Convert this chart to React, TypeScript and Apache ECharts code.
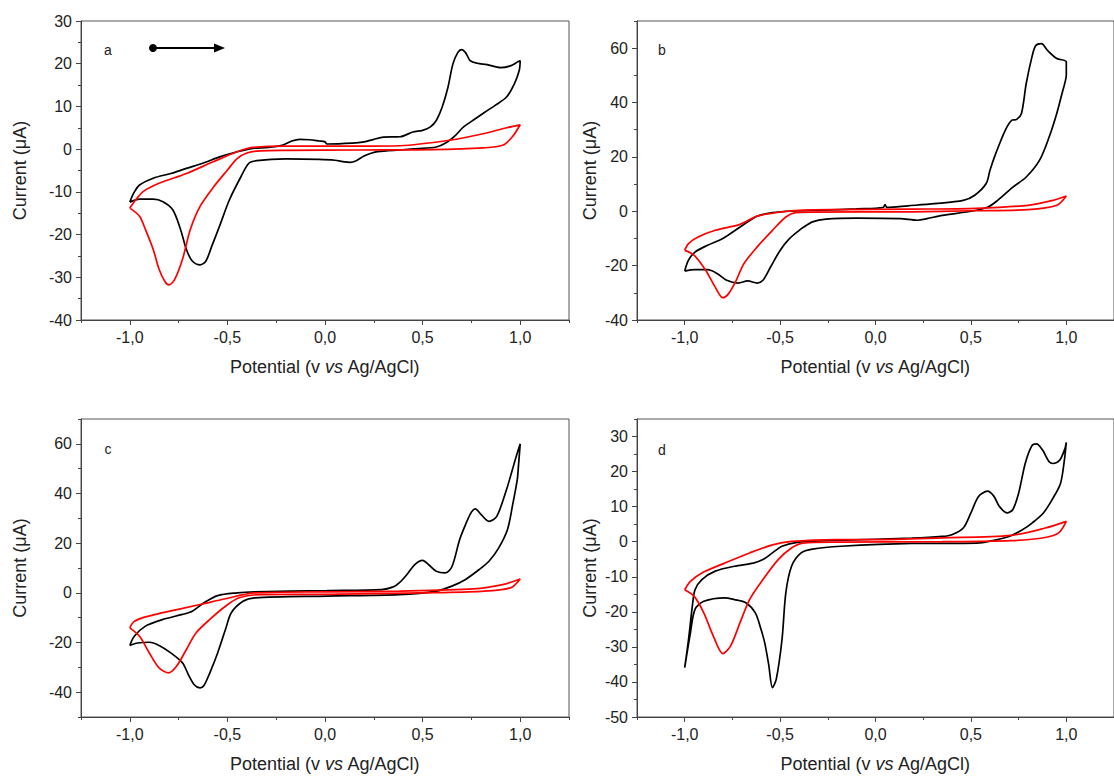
import React, { useEffect, useRef } from "react";
import * as echarts from "echarts";

const xMajor = [-1.0, -0.5, 0.0, 0.5, 1.0];
const xMinor = [-1.25, -0.75, -0.25, 0.25, 0.75, 1.25];
const xTitle = "Potential (v {i|vs} Ag/AgCl)";
const yTitle = "Current (\u03bcA)";
const panelLetters = ["a", "b", "c", "d"];

const yMajorA = [-40, -30, -20, -10, 0, 10, 20, 30];
const yMinorA = [-35, -25, -15, -5, 5, 15, 25];
const yMajorB = [-40, -20, 0, 20, 40, 60];
const yMinorB = [-30, -10, 10, 30, 50, 70];
const yMajorC = [-40, -20, 0, 20, 40, 60];
const yMinorC = [-50, -30, -10, 10, 30, 50, 70];
const yMajorD = [-50, -40, -30, -20, -10, 0, 10, 20, 30];
const yMinorD = [-45, -35, -25, -15, -5, 5, 15, 25, 35];

const aBlack = [
  [-1.0, -12.4], [-0.98, -10.3], [-0.95, -8.4], [-0.88, -6.8], [-0.79, -5.7], [-0.71, -4.5], [-0.62, -3.2],
  [-0.54, -1.8], [-0.45, -0.6], [-0.37, 0.2], [-0.29, 0.4], [-0.22, 0.9], [-0.17, 1.9], [-0.13, 2.3],
  [-0.08, 2.2], [-0.03, 1.9], [0.0, 1.7], [0.01, 1.2], [0.14, 1.4], [0.2, 1.7], [0.25, 2.3], [0.3, 2.8],
  [0.385, 2.9], [0.45, 4.0], [0.5, 4.4], [0.54, 5.2], [0.57, 6.7], [0.6, 9.8], [0.63, 14.5], [0.655, 19.9],
  [0.68, 22.6], [0.7, 23.3], [0.72, 22.6], [0.744, 20.7], [0.78, 20.1], [0.83, 19.8], [0.9, 19.1],
  [0.95, 19.5], [0.99, 20.5], [1.0, 20.7],
  [0.995, 18.4], [0.97, 15.3], [0.93, 12.2], [0.87, 10.2], [0.82, 8.7], [0.77, 7.1], [0.71, 5.2],
  [0.67, 3.3], [0.62, 1.5], [0.57, 0.5], [0.47, 0.1], [0.38, -0.2], [0.27, -0.6], [0.24, -0.9],
  [0.2, -1.6], [0.16, -2.7], [0.13, -3.1], [0.1, -3.0], [0.05, -2.6], [-0.03, -2.4], [-0.2, -2.3],
  [-0.35, -2.7], [-0.39, -3.3], [-0.43, -6.4], [-0.49, -11.9], [-0.54, -18], [-0.58, -22.7], [-0.61, -26.2],
  [-0.64, -27.1], [-0.68, -26.2], [-0.71, -23.5], [-0.74, -18.8], [-0.78, -14.2], [-0.83, -12.3],
  [-0.88, -11.7], [-0.95, -11.7], [-1.0, -12.4],
];
const aRed = [
  [-1.0, -13.8], [-0.95, -15.7], [-0.92, -18.8], [-0.88, -23.5], [-0.85, -28.1], [-0.82, -31], [-0.8, -31.8],
  [-0.77, -30.5], [-0.73, -25.8], [-0.69, -18.8], [-0.64, -13.4], [-0.57, -8.8], [-0.5, -4.9], [-0.45, -2.2],
  [-0.4, -0.9], [-0.33, -0.4], [-0.2, -0.3], [0.17, -0.2], [0.55, -0.1], [0.81, 0.3], [0.91, 0.9],
  [0.96, 2.9], [1.0, 5.7], [0.93, 5.0], [0.81, 3.6], [0.64, 2.1], [0.385, 0.8], [0.17, 0.7], [-0.2, 0.7],
  [-0.37, 0.4], [-0.45, -0.6], [-0.57, -2.9], [-0.71, -5.7], [-0.85, -8], [-0.93, -9.9], [-0.97, -11.9],
  [-1.0, -13.8],
];
const bBlack = [
  [-1.0, -22], [-0.98, -18], [-0.946, -15], [-0.88, -12.5], [-0.8, -10], [-0.71, -5.8], [-0.62, -1.8],
  [-0.54, -0.5], [-0.43, 0.1], [-0.28, 0.4], [-0.1, 0.9], [0.04, 1.4], [0.05, 2.5], [0.06, 1.4], [0.17, 2.0],
  [0.31, 2.8], [0.46, 4.0], [0.52, 5.9], [0.58, 10.2], [0.6, 15.1], [0.63, 21.2], [0.68, 29.8], [0.715, 33.5],
  [0.74, 33.8], [0.765, 36], [0.79, 47], [0.82, 56.8], [0.84, 61], [0.87, 61.7], [0.9, 59.3],
  [0.95, 56.2], [1.0, 55],
  [1.0, 50], [0.99, 46.5], [0.98, 44], [0.95, 36], [0.91, 27.3], [0.86, 18.8], [0.79, 12.6], [0.72, 8.9],
  [0.64, 4], [0.59, 1.6], [0.5, 0], [0.35, -1.5], [0.27, -2.7], [0.22, -3.3], [0.13, -2.7], [-0.1, -2.5],
  [-0.26, -2.9], [-0.33, -3.9], [-0.38, -6], [-0.4, -7], [-0.45, -10], [-0.5, -14.4], [-0.55, -20.5],
  [-0.59, -25.4], [-0.62, -26.4], [-0.67, -25.6], [-0.72, -26.4], [-0.78, -25.4], [-0.83, -22.9],
  [-0.88, -21.5], [-0.946, -21.5], [-1.0, -22],
];
const bRed = [
  [-1.0, -14.4], [-0.95, -16.2], [-0.89, -21.7], [-0.84, -27.9], [-0.8, -31.8], [-0.77, -30.3], [-0.73, -25.4],
  [-0.69, -19.3], [-0.62, -13.1], [-0.54, -7], [-0.47, -2.1], [-0.42, -0.5], [-0.33, -0.3], [0.19, -0.2],
  [0.5, 0.2], [0.8, 0.6], [0.95, 2.2], [1.0, 5.6], [0.93, 4.0], [0.8, 2.2], [0.53, 1.1], [0.19, 0.8],
  [-0.2, 0.6], [-0.38, 0.4], [-0.5, -0.3], [-0.62, -1.8], [-0.71, -4.8], [-0.84, -7], [-0.93, -9.5],
  [-0.98, -11.9], [-1.0, -14.4],
];
const cBlack = [
  [-1.0, -21.2], [-0.977, -17.5], [-0.92, -13.4], [-0.83, -10.7], [-0.73, -8.7], [-0.68, -7.4], [-0.62, -4],
  [-0.55, -1.1], [-0.45, 0], [-0.36, 0.4], [0.01, 0.9], [0.29, 1.3], [0.35, 2.4], [0.38, 4], [0.42, 7.4],
  [0.46, 11.4], [0.5, 13.1], [0.53, 11.4], [0.57, 8.7], [0.615, 8.0], [0.65, 10.5], [0.69, 21.5], [0.72, 27.5],
  [0.75, 32.5], [0.77, 33.8], [0.8, 31.5], [0.84, 28.8], [0.88, 30.8], [0.93, 41.6], [0.96, 49.6],
  [0.98, 55], [1.0, 60],
  [0.99, 50], [0.985, 45.6], [0.96, 34.9], [0.935, 25.5], [0.89, 18.1], [0.84, 12.7], [0.79, 9.4], [0.72, 5.4],
  [0.65, 2.7], [0.57, 0.7], [0.38, -0.7], [0.01, -1.3], [-0.36, -2], [-0.42, -3.4], [-0.48, -8], [-0.51, -14.8],
  [-0.55, -24.2], [-0.59, -32.2], [-0.62, -37.3], [-0.64, -38.3], [-0.67, -37], [-0.7, -32.9], [-0.73, -28.2],
  [-0.79, -24.2], [-0.85, -21.2], [-0.9, -19.9], [-0.96, -20.2], [-1.0, -21.2],
];
const cRed = [
  [-1.0, -14.1], [-0.95, -17.5], [-0.9, -24.2], [-0.85, -30.2], [-0.8, -32.2], [-0.76, -29.5], [-0.71, -22.8],
  [-0.66, -16.1], [-0.59, -10.7], [-0.51, -5.4], [-0.44, -2], [-0.33, -0.7], [0.0, -0.6], [0.5, 0], [0.8, 0.6],
  [0.95, 2], [1.0, 5.6], [0.91, 3.3], [0.76, 1.6], [0.38, 0.7], [0.01, 0.4], [-0.36, 0], [-0.51, -2.4],
  [-0.64, -4.7], [-0.83, -8], [-0.92, -9.7], [-0.98, -11.7], [-1.0, -14.1],
];
const dBlack = [
  [-1.0, -35.9], [-0.98, -27.9], [-0.96, -18.4], [-0.946, -13.7], [-0.91, -10.8], [-0.84, -8.4], [-0.74, -7],
  [-0.64, -6.1], [-0.59, -5.1], [-0.54, -3.2], [-0.49, -1.3], [-0.41, -0.2], [-0.2, 0.4], [0.19, 1.0],
  [0.35, 1.5], [0.4, 2], [0.46, 3.9], [0.5, 8.2], [0.54, 12.9], [0.587, 14.4], [0.62, 13], [0.65, 10],
  [0.69, 8.2], [0.72, 9.2], [0.75, 13.8], [0.785, 22.4], [0.82, 27.4], [0.844, 27.9], [0.875, 26.2],
  [0.91, 22.8], [0.93, 22.3], [0.966, 23.3], [0.993, 26.6], [1.0, 28.3],
  [0.99, 23.3], [0.97, 16.7], [0.93, 12.4], [0.88, 8.2], [0.82, 5.3], [0.77, 3.4], [0.7, 1.5], [0.62, 0.4],
  [0.53, -0.4], [0.19, -0.5], [-0.18, -1.3], [-0.33, -2.1], [-0.39, -3.2], [-0.44, -7], [-0.47, -14.6],
  [-0.49, -27.9], [-0.52, -39.2], [-0.54, -41.6], [-0.56, -35], [-0.58, -29], [-0.6, -25], [-0.63, -20.3],
  [-0.68, -17.4], [-0.74, -16.5], [-0.79, -16], [-0.9, -17], [-0.946, -19.3], [-0.97, -26], [-1.0, -35.9],
];
const dRed = [
  [-1.0, -13.7], [-0.95, -15.6], [-0.9, -20.3], [-0.85, -26.9], [-0.8, -31.9], [-0.76, -29.8], [-0.71, -23.1],
  [-0.66, -16.5], [-0.59, -10.8], [-0.51, -5.1], [-0.44, -1.8], [-0.38, -0.4], [-0.2, -0.1], [0.35, 0],
  [0.71, 0.3], [0.89, 1.2], [0.96, 2.5], [1.0, 5.8], [0.89, 3.9], [0.71, 1.8], [0.35, 1.1], [-0.01, 0.6],
  [-0.2, 0.6], [-0.44, 0.1], [-0.54, -0.9], [-0.66, -3.2], [-0.79, -6.1], [-0.91, -8.9], [-0.97, -11.3],
  [-1.0, -13.7],
];

const FONT = "'Liberation Sans', Arial, sans-serif";
const AXIS_COLOR = "#444";
const TEXT_COLOR = "#222";

type Panel = {
  rect: { left: number; top: number; width: number; height: number };
  yMin: number; yMax: number; yMajor: number[]; yMinor: number[];
  yGap: number; black: number[][]; red: number[][];
};

const panels: Panel[] = [
  { rect: { left: 81, top: 21, width: 488, height: 299 }, yMin: -40, yMax: 30, yMajor: yMajorA, yMinor: yMinorA, yGap: 52, black: aBlack, red: aRed },
  { rect: { left: 637, top: 21, width: 488, height: 299 }, yMin: -40, yMax: 70, yMajor: yMajorB, yMinor: yMinorB, yGap: 38, black: bBlack, red: bRed },
  { rect: { left: 81, top: 419, width: 488, height: 298 }, yMin: -50, yMax: 70, yMajor: yMajorC, yMinor: yMinorC, yGap: 52, black: cBlack, red: cRed },
  { rect: { left: 637, top: 419, width: 488, height: 298 }, yMin: -50, yMax: 35, yMajor: yMajorD, yMinor: yMinorD, yGap: 38, black: dBlack, red: dRed },
];

const letterPos = [[108, 50], [662, 50], [108, 449], [662, 450]];

function buildOption() {
  const grid: any[] = [];
  const xAxis: any[] = [];
  const yAxis: any[] = [];
  const series: any[] = [];
  panels.forEach((p, i) => {
    grid.push({ ...p.rect, show: true, borderColor: "#555", borderWidth: 1, backgroundColor: "transparent" });
    xAxis.push({
      gridIndex: i, type: "value", min: -1.25, max: 1.25, position: "bottom",
      axisLine: { onZero: false, lineStyle: { color: AXIS_COLOR, width: 1 } },
      axisTick: { customValues: xMajor, length: 5, lineStyle: { color: AXIS_COLOR } },
      axisLabel: {
        customValues: xMajor, margin: 9, fontSize: 16, color: TEXT_COLOR, fontFamily: FONT,
        formatter: (v: number) => v.toFixed(1).replace(".", ","),
      },
      splitLine: { show: false },
      name: xTitle, nameLocation: "middle", nameGap: 38,
      nameTextStyle: { fontSize: 18, color: TEXT_COLOR, fontFamily: FONT, rich: { i: { fontSize: 18, fontStyle: "italic", color: TEXT_COLOR, fontFamily: FONT } } },
    });
    xAxis.push({
      gridIndex: i, type: "value", min: -1.25, max: 1.25, position: "bottom",
      axisLine: { show: false, onZero: false },
      axisTick: { customValues: xMinor, length: 3, lineStyle: { color: AXIS_COLOR } },
      axisLabel: { show: false }, splitLine: { show: false },
    });
    yAxis.push({
      gridIndex: i, type: "value", min: p.yMin, max: p.yMax, position: "left",
      axisLine: { show: true, onZero: false, lineStyle: { color: AXIS_COLOR, width: 1 } },
      axisTick: { show: true, customValues: p.yMajor, length: 5, lineStyle: { color: AXIS_COLOR } },
      axisLabel: { customValues: p.yMajor, margin: 9, fontSize: 16, color: TEXT_COLOR, fontFamily: FONT },
      splitLine: { show: false },
      name: yTitle, nameLocation: "middle", nameGap: p.yGap, nameRotate: 90,
      nameTextStyle: { fontSize: 18, color: TEXT_COLOR, fontFamily: FONT },
    });
    yAxis.push({
      gridIndex: i, type: "value", min: p.yMin, max: p.yMax, position: "left",
      axisLine: { show: false, onZero: false },
      axisTick: { show: true, customValues: p.yMinor, length: 3, lineStyle: { color: AXIS_COLOR } },
      axisLabel: { show: false }, splitLine: { show: false },
    });
    series.push({
      type: "line", xAxisIndex: 2 * i, yAxisIndex: 2 * i, data: p.black, showSymbol: false, smooth: 0.3,
      lineStyle: { color: "#000", width: 1.7 }, itemStyle: { color: "#000" },
    });
    series.push({
      type: "line", xAxisIndex: 2 * i, yAxisIndex: 2 * i, data: p.red, showSymbol: false, smooth: 0.3,
      lineStyle: { color: "#ff0000", width: 1.7 }, itemStyle: { color: "#ff0000" },
    });
  });

  const graphic: any[] = panelLetters.map((t, i) => ({
    type: "text", x: letterPos[i][0], y: letterPos[i][1],
    style: { text: t, fontSize: 14, fill: TEXT_COLOR, fontFamily: FONT, textAlign: "center", textVerticalAlign: "middle" },
  }));
  graphic.push({ type: "line", shape: { x1: 153, y1: 48, x2: 216, y2: 48 }, style: { stroke: "#000", lineWidth: 2 } });
  graphic.push({ type: "circle", shape: { cx: 153, cy: 48, r: 4 }, style: { fill: "#000" } });
  graphic.push({ type: "polygon", shape: { points: [[225, 48], [214, 43.5], [214, 52.5]] }, style: { fill: "#000" } });

  return { animation: false, backgroundColor: "#fff", grid, xAxis, yAxis, series, graphic };
}

export default function App() {
  const ref = useRef<HTMLDivElement>(null);
  useEffect(() => {
    if (!ref.current) return;
    const chart = echarts.init(ref.current, undefined, { renderer: "svg" });
    chart.setOption(buildOption() as any);
    return () => chart.dispose();
  }, []);
  return (
    <div
      ref={ref}
      style={{ position: "absolute", left: 0, top: 0, width: 1114, height: 777, background: "#fff" }}
    />
  );
}
